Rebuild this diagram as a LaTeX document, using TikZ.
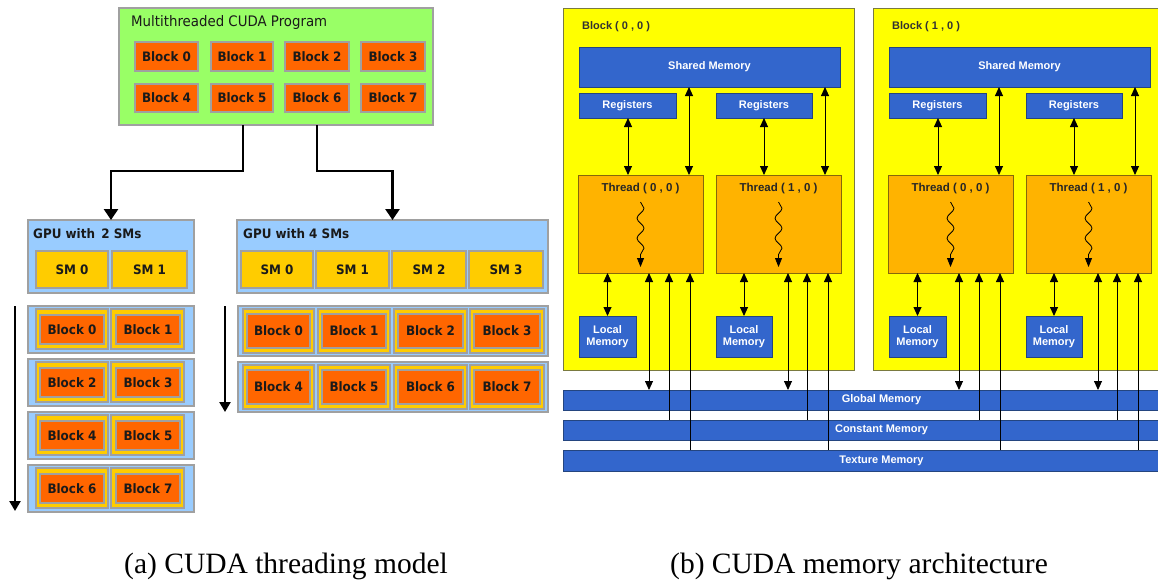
\documentclass[tikz,border=0pt]{standalone}
\usepackage{fontspec}
\setmainfont{Liberation Serif}
\newfontfamily\tah[FakeStretch=0.92]{DejaVu Sans}
\newfontfamily\arl{Liberation Sans}
\usetikzlibrary{arrows.meta,decorations.pathmorphing}
\definecolor{cgreen}{HTML}{99FF66}
\definecolor{corange}{HTML}{FF6600}
\definecolor{clblue}{HTML}{99CCFF}
\definecolor{csm}{HTML}{FFCC00}
\definecolor{cgray}{HTML}{A0A0A0}
\definecolor{ctext}{HTML}{1A1A1A}
\definecolor{cybg}{HTML}{FFFF00}
\definecolor{cyborder}{HTML}{7A7A40}
\definecolor{cblue}{HTML}{3366CC}
\definecolor{cbborder}{HTML}{24457F}
\definecolor{cthr}{HTML}{FFB300}
\definecolor{ctborder}{HTML}{86680A}
\newcommand\bx[7]{\node[#2,minimum width={(#5)-(#3)},minimum height={(#6)-(#4)}] (#1) at ({((#3)+(#5))/2},{((#4)+(#6))/2}) {#7};}
\tikzset{
  base/.style={draw, inner sep=0pt, outer sep=0pt},
  prog/.style={base, fill=cgreen, draw=cgray, line width=1.2pt},
  blk/.style={base, fill=corange, draw=cgray, line width=1.2pt, text=ctext, font=\tah\bfseries\fontsize{13}{15}\selectfont},
  gpu/.style={base, fill=clblue, draw=cgray, line width=1.2pt},
  sm/.style={base, fill=csm, draw=cgray, line width=1.2pt, text=ctext, font=\tah\bfseries\fontsize{13}{15}\selectfont},
  cell/.style={base, fill=csm, draw=cgray, line width=1.2pt},
  ptitle/.style={anchor=west, inner sep=0pt, text=ctext, font=\tah\fontsize{14.5}{16}\selectfont},
  gtitle/.style={anchor=west, inner sep=0pt, text=ctext, font=\tah\bfseries\fontsize{13}{15}\selectfont},
  bigarr/.style={line width=2.6pt, -{Triangle[length=11pt,width=14pt]}},
  flow/.style={line width=2.4pt, -{Triangle[length=10pt,width=11pt]}},
  caption/.style={inner sep=0pt, font=\fontsize{29.5}{31}\selectfont},
  ybg/.style={base, fill=cybg, draw=cyborder, line width=1pt},
  mem/.style={base, fill=cblue, draw=cbborder, line width=1pt, text=white, align=center, font=\arl\bfseries\fontsize{11}{12.5}\selectfont},
  bar/.style={base, fill=cblue, draw=cbborder, line width=1pt, text=white, font=\arl\bfseries\fontsize{11}{12}\selectfont},
  thr/.style={base, fill=cthr, draw=ctborder, line width=1pt},
  blabel/.style={inner sep=0pt, text=black!80, font=\arl\bfseries\fontsize{11}{12}\selectfont},
  tlabel/.style={inner sep=0pt, text=black!85, font=\arl\bfseries\fontsize{11.5}{12}\selectfont},
  dbl/.style={line width=0.9pt, {Triangle[length=9pt,width=8pt]}-{Triangle[length=9pt,width=8pt]}},
  uparr/.style={line width=0.9pt, -{Triangle[length=9pt,width=8pt]}},
  wave/.style={line width=0.8pt, decorate, decoration={snake, amplitude=3.5pt, segment length=20pt, post length=8pt}, -{Triangle[length=9pt,width=7pt]}}
}
\begin{document}
\begin{tikzpicture}[x=1pt,y=-1pt]
\fill[white] (0,0) rectangle (1158,581);
\useasboundingbox (0,0) rectangle (1158,581);
% ---------------- (a) ----------------
\bx{prog}{prog}{119}{8}{433}{125}{}
\node[ptitle] (ptit) at (131,22) {Multithreaded CUDA Program};
\foreach \i/\a/\b in {0/135/198,1/211/273,2/285/349,3/361/425}{\bx{pb\i}{blk}{\a}{42}{\b}{71}{Block \i}}
\foreach \i/\a/\b in {4/135/198,5/211/273,6/285/349,7/361/425}{\bx{pb\i}{blk}{\a}{84}{\b}{112}{Block \i}}
\bx{gpu2}{gpu}{28}{220}{194}{293}{}
\node[gtitle] (g2t) at (33,234) {GPU with\, 2 SMs};
\bx{g2s0}{sm}{36}{251}{108}{288}{SM 0}
\bx{g2s1}{sm}{112}{251}{187}{288}{SM 1}
\bx{gpu4}{gpu}{237}{220}{548}{293}{}
\node[gtitle] (g4t) at (243,234) {GPU with 4 SMs};
\foreach \i/\a/\b in {0/241/313,1/316/389,2/392/466,3/469/543}{\bx{g4s\i}{sm}{\a}{251}{\b}{288}{SM \i}}
\coordinate (jl) at (243,171);
\coordinate (jr) at (317,171);
\draw[bigarr] (prog.south -| jl) -- (jl) -| (gpu2.north);
\draw[bigarr] (prog.south -| jr) -- (jr) -| (gpu4.north);
% left block rows
\foreach \r/\ya/\yb/\p/\q in {1/306/353/0/1,2/359/406/2/3,3/412/459/4/5,4/465/512/6/7}{
  \bx{lr\r}{gpu}{28}{\ya}{194}{\yb}{}
  \bx{ly\p}{cell}{36}{\ya+3}{108}{\yb-4}{}
  \bx{lb\p}{blk}{40}{\ya+9}{104}{\yb-9}{Block \p}
  \bx{ly\q}{cell}{111}{\ya+3}{184}{\yb-4}{}
  \bx{lb\q}{blk}{116}{\ya+9}{180}{\yb-9}{Block \q}
}
% right block rows
\foreach \r/\ya/\yb/\s in {1/306/356/0,2/362/412/4}{
  \bx{rr\r}{gpu}{238}{\ya}{548}{\yb}{}
  \foreach \k/\a/\b in {0/243/314,1/318/390,2/394/467,3/470/544}{
    \pgfmathtruncatemacro\m{\s+\k}
    \bx{ry\m}{cell}{\a}{\ya+3}{\b}{\yb-3}{}
    \bx{rb\m}{blk}{\a+4}{\ya+8}{\b-4}{\yb-8}{Block \m}
  }
}
\coordinate (va1) at (15,306);
\coordinate (va2) at (15,511);
\draw[flow] (va1) -- (va2);
\coordinate (vb1) at (225,306);
\coordinate (vb2) at (225,412);
\draw[flow] (vb1) -- (vb2);
\node[caption] (capa) at (286,566) {(a) CUDA threading model};
\node[caption] (capb) at (859,566) {(b) CUDA memory architecture};
% ---------------- (b) ----------------
\begin{scope}
\clip (0,0) rectangle (1158,581);
\bx{gm}{bar}{563}{390}{1200}{410}{Global Memory}
\bx{cm}{bar}{563}{420}{1200}{440}{Constant Memory}
\bx{tm}{bar}{563}{450}{1200}{471}{Texture Memory}
\foreach \o/\n in {0/0,310/1}{
  \bx{yb\n}{ybg}{563+\o}{8}{854+\o}{370}{}
  \node[blabel, anchor=west] (bl\n) at (582+\o,27) {Block ( \n{} , 0 )};
  \bx{sh\n}{mem}{579+\o}{47}{840+\o}{87}{Shared Memory}
  \bx{rA\n}{mem}{579+\o}{93}{676+\o}{118}{Registers}
  \bx{rB\n}{mem}{716+\o}{93}{812+\o}{118}{Registers}
  \bx{tA\n}{thr}{578+\o}{175}{703+\o}{273}{}
  \bx{tB\n}{thr}{716+\o}{175}{841+\o}{273}{}
  \node[tlabel] (ttA\n) at (640.5+\o,189) {Thread ( 0 , 0 )};
  \node[tlabel] (ttB\n) at (778.5+\o,189) {Thread ( 1 , 0 )};
  \bx{lA\n}{mem}{579+\o}{316}{636+\o}{357}{Local\\Memory}
  \bx{lB\n}{mem}{716+\o}{316}{772+\o}{357}{Local\\Memory}
  \draw[wave] ([yshift=-27pt]tA\n.north) -- ([yshift=6pt]tA\n.south);
  \draw[wave] ([yshift=-27pt]tB\n.north) -- ([yshift=6pt]tB\n.south);
  \coordinate (xa\n) at (628+\o,0);
  \coordinate (xb\n) at (689+\o,0);
  \coordinate (xc\n) at (764+\o,0);
  \coordinate (xd\n) at (825+\o,0);
  \coordinate (xe\n) at (649+\o,0);
  \coordinate (xf\n) at (669+\o,0);
  \coordinate (xg\n) at (690+\o,0);
  \coordinate (xh\n) at (788+\o,0);
  \coordinate (xi\n) at (807+\o,0);
  \coordinate (xj\n) at (828+\o,0);
  \draw[dbl] (rA\n.south -| xa\n) -- (tA\n.north -| xa\n);
  \draw[dbl] (sh\n.south -| xb\n) -- (tA\n.north -| xb\n);
  \draw[dbl] (rB\n.south -| xc\n) -- (tB\n.north -| xc\n);
  \draw[dbl] (sh\n.south -| xd\n) -- (tB\n.north -| xd\n);
  \draw[dbl] (tA\n.south -| lA\n.north) -- (lA\n.north);
  \draw[dbl] (tB\n.south -| lB\n.north) -- (lB\n.north);
  \draw[dbl] (tA\n.south -| xe\n) -- (gm.north -| xe\n);
  \draw[uparr] (cm.north -| xf\n) -- (tA\n.south -| xf\n);
  \draw[uparr] (tm.north -| xg\n) -- (tA\n.south -| xg\n);
  \draw[dbl] (tB\n.south -| xh\n) -- (gm.north -| xh\n);
  \draw[uparr] (cm.north -| xi\n) -- (tB\n.south -| xi\n);
  \draw[uparr] (tm.north -| xj\n) -- (tB\n.south -| xj\n);
}
\end{scope}
\end{tikzpicture}
\end{document}
